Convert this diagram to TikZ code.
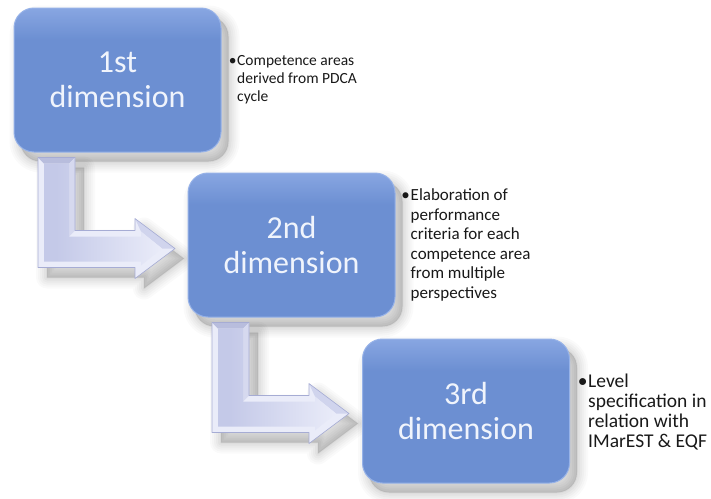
\documentclass[tikz,border=0pt]{standalone}
\usepackage{fontspec}
\setmainfont{Carlito}
\usetikzlibrary{calc}
\definecolor{boxblue}{RGB}{108,143,210}
\definecolor{boxtop}{RGB}{136,166,226}
\definecolor{boxedge}{RGB}{150,178,232}
\definecolor{arrowlight}{RGB}{234,236,249}
\definecolor{arrowmid}{RGB}{196,201,232}
\definecolor{arrowdark}{RGB}{166,172,212}
\definecolor{desctext}{RGB}{25,25,25}
\definecolor{boxtext}{RGB}{240,244,252}
\pgfdeclarelayer{bg}
\pgfdeclarelayer{mid}
\pgfsetlayers{bg,mid,main}
\pgfdeclareverticalshading{boxshade}{100bp}{color(0bp)=(boxblue); color(64bp)=(boxblue); color(75bp)=(boxtop); color(100bp)=(boxtop)}
\pgfdeclarehorizontalshading{barshade}{100bp}{color(0bp)=(arrowmid); color(30bp)=(arrowmid); color(75bp)=(arrowlight); color(100bp)=(arrowlight)}
\newcommand\mybul[1]{\makebox[#1][c]{•}}
\newcommand\mypad[1]{\hspace*{#1}}
\tikzset{
  dimbox/.style={shape=rectangle, rounded corners=20pt, minimum width=207pt,
    minimum height=144pt, inner sep=0pt, align=center, text=boxtext,
    font=\fontsize{32}{35.5}\selectfont, draw=boxedge, line width=1pt, shading=boxshade},
  desc/.style={anchor=west, inner sep=0pt, align=left, text=desctext},
  shadowlayer/.style={black, line join=round, rounded corners=20pt},
  bentarrow/.pic={
    \foreach \w/\o in {22/0.018,18/0.02,14/0.022,10/0.025,6/0.028,2/0.03}{
      \filldraw[black, opacity=\o, line width=\w pt, line join=round]
        (9,10) -- (46,10) -- (46,83) -- (106,83) -- (106,71) -- (146,101)
        -- (106,131) -- (106,120) -- (9,120) -- cycle;
    }
    \fill[arrowlight] (0,0) -- (37,0) -- (37,73) -- (97,73) -- (97,61) -- (137,91)
        -- (97,121) -- (97,110) -- (0,110) -- cycle;
    \fill[arrowdark!80] (0,0) -- (37,0) -- (31,6) -- (6,6) -- cycle;
    \fill[arrowmid!70] (37,0) -- (37,73) -- (31,79) -- (31,6) -- cycle;
    \fill[arrowmid!80] (97,61) -- (137,91) -- (124,91) -- (103,74) -- cycle;
    \shade[shading=barshade] (6,6) -- (31,6) -- (31,79) -- (103,79) -- (103,74)
        -- (124,91) -- (103,108) -- (103,104) -- (6,104) -- cycle;
    \draw[arrowdark, line width=0.6pt, line join=round] (0,0) -- (37,0) -- (37,73)
        -- (97,73) -- (97,61) -- (137,91) -- (97,121) -- (97,110) -- (0,110) -- cycle;
  }
}
\begin{document}
\begin{tikzpicture}[x=1pt, y=-1pt]
\useasboundingbox (0,0) rectangle (711,498);

\node[dimbox] (box1) at (117.5,80) {1st\\dimension};
\node[dimbox] (box2) at (291.5,245) {2nd\\dimension};
\node[dimbox] (box3) at (466,411) {3rd\\dimension};

\begin{pgfonlayer}{bg}
\fill[white] (0,0) rectangle (711,498);
\begin{scope}
\clip (0,0) rectangle (711,498);
\foreach \b in {box1,box2,box3}{
  \foreach \w/\o in {22/0.018,18/0.02,14/0.022,10/0.025,6/0.028,2/0.03}{
    \filldraw[shadowlayer, opacity=\o, line width=\w pt]
      ($(\b.north west)+(7,9)$) rectangle ($(\b.south east)+(7,9)$);
  }
}
\end{scope}
\end{pgfonlayer}

\begin{pgfonlayer}{mid}
\pic (arr1) at ($(box1.south west)+(24.5,5)$) {bentarrow};
\pic (arr2) at ($(box2.south west)+(24.5,5)$) {bentarrow};
\end{pgfonlayer}

\node[desc, font=\fontsize{15.5}{18}\selectfont] (t1) at ($(box1.east)+(6.5,0)$)
  {\mybul{9pt}Competence areas\\\mypad{9pt}derived from PDCA\\\mypad{9pt}cycle};
\node[desc, font=\fontsize{17}{19.5}\selectfont] (t2) at ($(box2.east)+(5,0)$)
  {\mybul{10pt}Elaboration of\\\mypad{10pt}performance\\\mypad{10pt}criteria for each\\\mypad{10pt}competence area\\\mypad{10pt}from multiple\\\mypad{10pt}perspectives};
\node[desc, font=\fontsize{19.5}{20.3}\selectfont] (t3) at ($(box3.east)+(7,1)$)
  {\mybul{11pt}Level\\\mypad{11pt}specification in\\\mypad{11pt}relation with\\\mypad{11pt}IMarEST \& EQF};
\end{tikzpicture}
\end{document}
